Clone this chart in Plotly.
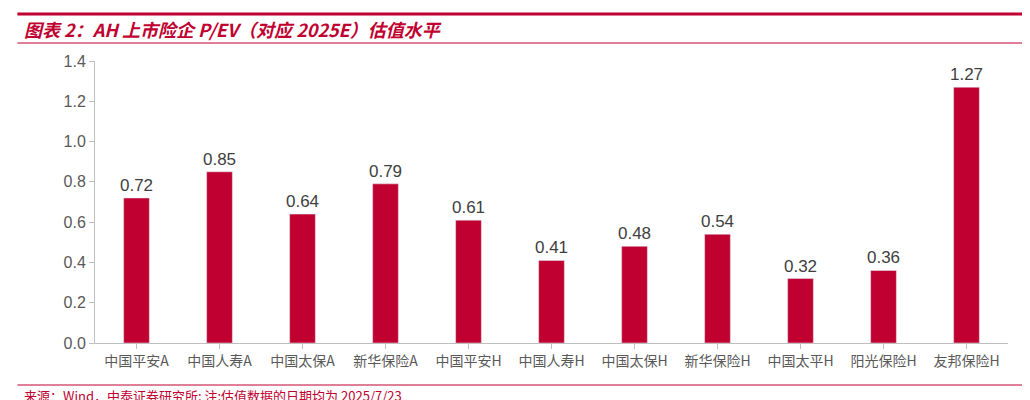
import plotly.graph_objects as go

categories = ["中国平安A","中国人寿A","中国太保A","新华保险A","中国平安H","中国人寿H","中国太保H","新华保险H","中国太平H","阳光保险H","友邦保险H"]
values = [0.72,0.85,0.64,0.79,0.61,0.41,0.48,0.54,0.32,0.36,1.27]
tick_vals = [0,0.2,0.4,0.6,0.8,1.0,1.2,1.4]
tick_text = ["0.0","0.2","0.4","0.6","0.8","1.0","1.2","1.4"]

red = "#C00030"
fig = go.Figure(go.Bar(x=categories, y=values, marker_color=red, width=0.31,
    text=[f"{v:.2f}" for v in values], textposition="outside", constraintext="none",
    textfont=dict(size=17, color="#404040", family="Arial, Liberation Sans"), cliponaxis=False))
fig.update_layout(width=1030, height=400, plot_bgcolor="white", paper_bgcolor="white",
    margin=dict(l=87, r=30, t=53, b=65), showlegend=False,
    font=dict(family="Noto Sans CJK SC", color="#595959"))
fig.update_xaxes(showline=True, linecolor="#BFBFBF", ticks="outside", tickcolor="#BFBFBF",
    tickfont=dict(size=14, color="#595959"), showgrid=False)
fig.update_yaxes(range=[0,1.4], tickvals=tick_vals, ticktext=tick_text, showline=True, linecolor="#BFBFBF",
    ticks="outside", tickcolor="#BFBFBF", showgrid=False, zeroline=False,
    tickfont=dict(size=16, color="#595959", family="Arial, Liberation Sans"))
def py(p): return (400-65-p)/282
fig.add_shape(type="line", xref="paper", yref="paper", x0=-0.085, x1=1.04, y0=py(6), y1=py(6), line=dict(color=red, width=3))
fig.add_shape(type="line", xref="paper", yref="paper", x0=-0.085, x1=1.04, y0=py(35), y1=py(35), line=dict(color=red, width=1))
fig.add_shape(type="line", xref="paper", yref="paper", x0=-0.085, x1=1.04, y0=py(377), y1=py(377), line=dict(color=red, width=1))
fig.add_annotation(xref="paper", yref="paper", x=-0.08, y=py(21), xanchor="left", yanchor="middle",
    text="<b><i>图表 2：AH 上市险企 P/EV（对应 2025E）估值水平</i></b>", showarrow=False,
    font=dict(size=18, color=red, family="Noto Sans CJK SC"))
fig.add_annotation(xref="paper", yref="paper", x=-0.08, y=py(387), xanchor="left", yanchor="middle",
    text="来源：Wind，中泰证券研究所; 注:估值数据的日期均为 2025/7/23", showarrow=False,
    font=dict(size=13, color=red, family="Noto Sans CJK SC"))
fig.write_html("out.html")
